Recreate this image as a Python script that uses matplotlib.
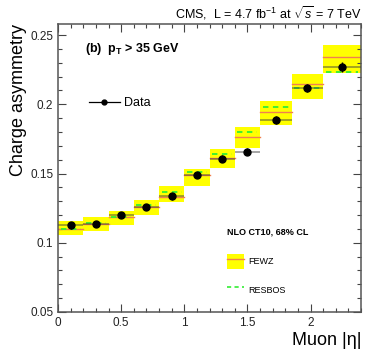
import numpy as np
import matplotlib
matplotlib.use('Agg')
import matplotlib.pyplot as plt
from matplotlib.patches import Patch
from matplotlib.lines import Line2D
from matplotlib.ticker import MultipleLocator

plt.rcParams['font.family'] = ['Liberation Sans', 'DejaVu Sans']
plt.rcParams['mathtext.fontset'] = 'custom'
plt.rcParams['mathtext.rm'] = 'Liberation Sans'
plt.rcParams['mathtext.it'] = 'Liberation Sans:italic'
plt.rcParams['mathtext.bf'] = 'Liberation Sans:bold'

# muon |eta| bin edges
edges = [0.0, 0.2, 0.4, 0.6, 0.8, 1.0, 1.2, 1.4, 1.6, 1.85, 2.1, 2.4]

# measured charge asymmetry
data = [0.1125, 0.1138, 0.1203, 0.1261, 0.1336, 0.1490, 0.1606, 0.1659, 0.1886, 0.2116, 0.2270]
data_err = [0.0022, 0.0022, 0.0022, 0.0022, 0.0024, 0.0024, 0.0025, 0.0026, 0.0030, 0.0030, 0.0035]

# FEWZ NLO CT10 band (central, low, high)
fewz = [0.1096, 0.1138, 0.1183, 0.1261, 0.1328, 0.1486, 0.1609, 0.1763, 0.1947, 0.2145, 0.2343]
fewz_lo = [0.1053, 0.1082, 0.1125, 0.1201, 0.1297, 0.1413, 0.1538, 0.1686, 0.1850, 0.2036, 0.2227]
fewz_hi = [0.1154, 0.1188, 0.1232, 0.1309, 0.1413, 0.1534, 0.1674, 0.1836, 0.2022, 0.2222, 0.2428]

# RESBOS prediction
resbos = [0.1100, 0.1140, 0.1188, 0.1273, 0.1367, 0.1512, 0.1643, 0.1797, 0.1978, 0.2118, 0.2230]

edges = np.array(edges)
lo_e = edges[:-1]
hi_e = edges[1:]
mid = 0.5 * (lo_e + hi_e)
halfw = 0.5 * (hi_e - lo_e)

fig = plt.figure(figsize=(3.74, 3.59), dpi=100)
ax = fig.add_axes([58 / 374, 47 / 359, 303 / 374, 288 / 359])

yellow = '#ffff00'
orange = '#f08050'
green = '#33ee33'

for i in range(len(mid)):
    ax.fill_between([lo_e[i], hi_e[i]], fewz_lo[i], fewz_hi[i], color=yellow, lw=0, zorder=1)
    ax.plot([lo_e[i], hi_e[i]], [fewz[i]] * 2, color=orange, lw=1.0, zorder=2)
    ax.plot([lo_e[i] + 0.02, hi_e[i] - 0.02], [resbos[i]] * 2, color=green, lw=1.3,
            ls=(0, (3, 2.5)), zorder=3)

ax.errorbar(mid, data, xerr=halfw, fmt='none', ecolor='#404040', elinewidth=1.1,
            alpha=0.6, capsize=0, zorder=4)
ax.errorbar(mid, data, yerr=data_err, fmt='o', color='black', ms=5,
            elinewidth=1.0, capsize=0, zorder=5)

ax.set_xlim(0, 2.4)
ax.set_ylim(0.05, 0.258)
ax.xaxis.set_minor_locator(MultipleLocator(0.1))
ax.yaxis.set_minor_locator(MultipleLocator(0.01))
ax.set_xticks([0, 0.5, 1, 1.5, 2])
ax.set_xticklabels(['0', '0.5', '1', '1.5', '2'])
ax.set_yticks([0.05, 0.1, 0.15, 0.2, 0.25])
ax.set_yticklabels(['0.05', '0.1', '0.15', '0.2', '0.25'])
ax.tick_params(which='both', direction='in', top=True, right=True, labelsize=8.5,
               color='#444444', labelcolor='#222222')
ax.tick_params(which='major', length=6, width=0.8)
ax.tick_params(which='minor', length=3, width=0.8)
for s in ax.spines.values():
    s.set_linewidth(1.1)
    s.set_color('#555555')

ax.set_xlabel('Muon |η|', fontsize=13, loc='right', labelpad=2)
ax.set_ylabel('Charge asymmetry', fontsize=13, loc='top', labelpad=2)

fig.text(361 / 374, 1 - 13 / 359, r'CMS,  L = 4.7 fb$^{-1}$ at $\sqrt{s}$ = 7 TeV',
         ha='right', va='center', fontsize=9)
ax.text(0.089, 0.912, r'(b)  p$_\mathbf{T}$ > 35 GeV', transform=ax.transAxes,
        fontsize=9, fontweight='bold', va='center', ha='left')

h_data = Line2D([], [], color='black', lw=0.9, marker='o', ms=3.5)
leg1 = ax.legend([h_data], ['Data'], loc='center left', bbox_to_anchor=(0.085, 0.726),
                 frameon=False, fontsize=9, handlelength=2.5, handletextpad=0.3,
                 borderaxespad=0)
ax.add_artist(leg1)

h_fewz = (Patch(facecolor=yellow, edgecolor='none'), Line2D([], [], color=orange, lw=1.0))
h_res = Line2D([], [], color=green, lw=1.2, ls=(0, (2.5, 2)))
leg2 = ax.legend([h_fewz, h_res], ['FEWZ', 'RESBOS'], loc='upper left',
                 bbox_to_anchor=(0.558, 0.295), frameon=False, fontsize=6.5,
                 handlelength=1.9, handleheight=2.2, labelspacing=1.45,
                 handletextpad=0.4, borderaxespad=0, borderpad=0,
                 title='NLO CT10, 68% CL',
                 title_fontproperties={'size': 6.5, 'weight': 'bold'})
leg2._legend_box.align = 'left'
leg2._legend_box.sep = 13

fig.savefig('out.png', dpi=100)
